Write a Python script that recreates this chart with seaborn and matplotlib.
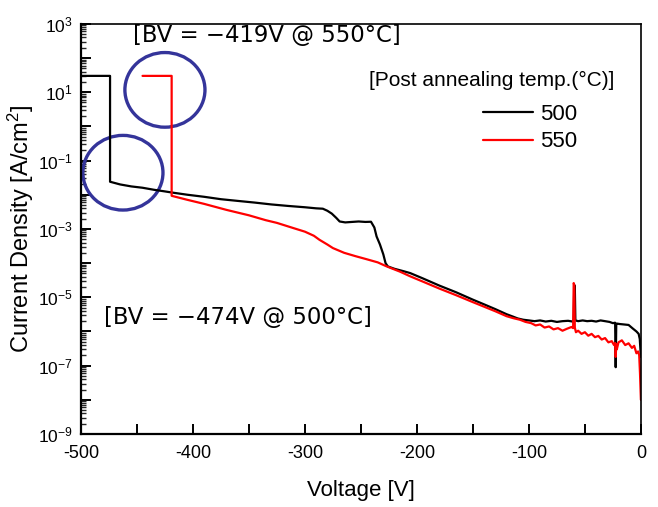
import matplotlib

matplotlib.use("Agg")

import numpy as np
import matplotlib.pyplot as plt
import pandas as pd
import seaborn as sns
from matplotlib.patches import Ellipse
from matplotlib.ticker import FixedLocator, FuncFormatter, LogLocator, MultipleLocator

# reverse I-V sweeps, current density in A/cm^2
v500 = [
    -500, -474, -474, -465, -455, -445, -435, -425, -418, -405,
    -390, -375, -360, -345, -330, -315, -300, -290, -284, -280,
    -276, -272, -269, -264, -258, -252, -246, -241, -238, -236,
    -233, -230, -228, -226, -220, -212, -206, -195, -180, -165,
    -150, -140, -130, -120, -114, -110, -105, -100, -95, -90,
    -85, -80, -75, -70, -65, -61, -60, -59.5, -59, -58.5,
    -56, -52, -48, -44, -40, -36, -32, -28, -25, -23,
    -22.5, -22, -21.5, -19, -15, -11, -7, -4, -2, -1,
    0,
]
j500 = [
    30, 30, 2.4e-2, 2.0e-2, 1.75e-2, 1.6e-2, 1.4e-2, 1.25e-2, 1.15e-2, 1.0e-2,
    8.7e-3, 7.4e-3, 6.6e-3, 5.9e-3, 5.2e-3, 4.7e-3, 4.3e-3, 4.0e-3, 3.9e-3, 3.4e-3,
    2.8e-3, 2.1e-3, 1.65e-3, 1.55e-3, 1.6e-3, 1.65e-3, 1.6e-3, 1.62e-3, 1.1e-3, 6.0e-4,
    3.5e-4, 1.8e-4, 1.0e-4, 8.0e-5, 6.8e-5, 5.8e-5, 5.1e-5, 3.6e-5, 2.2e-5, 1.4e-5,
    8.5e-6, 6.2e-6, 4.5e-6, 3.2e-6, 2.7e-6, 2.4e-6, 2.2e-6, 2.1e-6, 2.0e-6, 2.1e-6,
    1.95e-6, 2.05e-6, 1.9e-6, 2.0e-6, 2.05e-6, 1.95e-6, 2.2e-6, 2.3e-5, 2.0e-5, 2.1e-6,
    2.0e-6, 2.1e-6, 2.0e-6, 2.05e-6, 1.95e-6, 2.1e-6, 2.0e-6, 1.9e-6, 1.75e-6, 1.8e-6,
    9e-8, 1.6e-6, 1.7e-6, 1.65e-6, 1.6e-6, 1.55e-6, 1.2e-6, 1.0e-6, 8.5e-7, 6e-7,
    1.8e-7,
]
v550 = [
    -445, -419, -419, -405, -390, -370, -350, -335, -325, -310,
    -300, -292, -287, -280, -275, -265, -255, -245, -235, -227,
    -215, -206, -195, -180, -165, -150, -140, -130, -120, -114,
    -108, -103, -98, -94, -90, -86, -82, -78, -74, -70,
    -66, -62, -60.5, -60, -59.5, -59, -58, -56, -53, -50,
    -47, -44, -41, -38, -35, -32, -29, -26, -24, -23,
    -22.5, -22, -21.5, -20, -17, -14, -11, -8, -6, -4,
    -2.5, -1.5, -0.8, 0,
]
j550 = [
    30, 30, 9.3e-3, 7.1e-3, 5.4e-3, 3.6e-3, 2.5e-3, 1.8e-3, 1.5e-3, 1.05e-3,
    8.3e-4, 6.3e-4, 4.8e-4, 3.5e-4, 2.75e-4, 2.0e-4, 1.6e-4, 1.3e-4, 1.05e-4, 8.0e-5,
    5.6e-5, 4.1e-5, 2.9e-5, 1.8e-5, 1.15e-5, 7.2e-6, 5.3e-6, 3.9e-6, 2.8e-6, 2.45e-6,
    2.2e-6, 1.9e-6, 1.75e-6, 1.5e-6, 1.6e-6, 1.3e-6, 1.4e-6, 1.15e-6, 1.25e-6, 1.05e-6,
    1.2e-6, 1.35e-6, 1.25e-6, 2.6e-5, 2.3e-5, 1.3e-6, 9.5e-7, 1.05e-6, 8.5e-7, 9.5e-7,
    7.5e-7, 8.5e-7, 6.8e-7, 7.4e-7, 5.8e-7, 6.4e-7, 4.8e-7, 5.2e-7, 4.0e-7, 4.6e-7,
    1.8e-7, 4.2e-7, 3.0e-7, 4.8e-7, 5.5e-7, 4.0e-7, 4.5e-7, 3.3e-7, 3.8e-7, 2.3e-7,
    2.6e-7, 2.0e-7, 6e-8, 1.0e-8,
]
TEMP_LABELS = ["500", "550"]
TEMP_COLORS = {"500": "black", "550": "red"}

df = pd.concat(
    [
        pd.DataFrame({"voltage": v500, "current": j500, "temp": "500"}),
        pd.DataFrame({"voltage": v550, "current": j550, "temp": "550"}),
    ],
    ignore_index=True,
)

sns.set_theme(style="white")
plt.rcParams["font.family"] = ["Liberation Sans", "DejaVu Sans"]
plt.rcParams["mathtext.fontset"] = "custom"
plt.rcParams["mathtext.rm"] = "Liberation Sans"
plt.rcParams["mathtext.it"] = "Liberation Sans:italic"
plt.rcParams["axes.unicode_minus"] = False
plt.rcParams["text.color"] = "black"
plt.rcParams["axes.labelcolor"] = "black"

fig = plt.figure(figsize=(6.58, 5.07), dpi=100)
ax = fig.add_axes([0.123, 0.144, 0.851, 0.809])

sns.lineplot(
    data=df, x="voltage", y="current", hue="temp", hue_order=TEMP_LABELS,
    palette=TEMP_COLORS, sort=False, estimator=None, linewidth=1.6, ax=ax, legend=False,
)
ax.set_yscale("log")
ax.set_xlim(-500, 0)
ax.set_ylim(1e-9, 1e3)

# ticks: inward, left/bottom only
ax.xaxis.set_major_locator(MultipleLocator(50))
ax.xaxis.set_major_formatter(FuncFormatter(lambda x, _: f"{int(round(x))}" if round(x) % 100 == 0 else ""))
ax.yaxis.set_major_locator(FixedLocator([10.0 ** e for e in range(-9, 4)]))
ax.yaxis.set_minor_locator(LogLocator(base=10, subs=np.arange(2, 10), numticks=30))


def y_label(y, _):
    e = int(round(np.log10(y)))
    return f"$10^{{{e}}}$" if e % 2 != 0 else ""


ax.yaxis.set_major_formatter(FuncFormatter(y_label))
ax.tick_params(which="major", direction="in", length=7, width=1.4, colors="black",
               bottom=True, left=True, top=False, right=False)
ax.tick_params(axis="x", labelsize=13, pad=8)
ax.tick_params(axis="y", labelsize=12.5, pad=6)
ax.tick_params(which="minor", direction="in", length=3.5, width=1.0,
               bottom=False, left=True, top=False, right=False)
for side in ["left", "bottom", "right", "top"]:
    ax.spines[side].set_color("black")
    ax.spines[side].set_linewidth(1.6 if side in ("left", "bottom") else 1.2)

ax.set_xlabel("Voltage [V]", fontsize=16, labelpad=13)
ax.set_ylabel("Current Density [A/cm$^2$]", fontsize=17)
ax.yaxis.set_label_coords(-0.08, 0.5)

# annotations
ax.text(0.093, 0.971, "[BV = \u2212419V @ 550\u00b0C]", transform=ax.transAxes,
        fontsize=16.4, va="center", ha="left", family="DejaVu Sans")
ax.text(0.041, 0.285, "[BV = \u2212474V @ 500\u00b0C]", transform=ax.transAxes,
        fontsize=16.4, va="center", ha="left", family="DejaVu Sans")
for cx, cy in [(0.075, 0.637), (0.15, 0.839)]:
    ax.add_patch(Ellipse((cx, cy), 0.143, 0.182, transform=ax.transAxes,
                         fill=False, edgecolor="#34349a", linewidth=2.4))

# legend
ax.text(0.734, 0.863, "[Post annealing temp.(\u00b0C)]", transform=ax.transAxes,
        fontsize=15, va="center", ha="center")
handles = [plt.Line2D([], [], color=TEMP_COLORS[t], linewidth=1.6) for t in TEMP_LABELS]
ax.legend(handles, TEMP_LABELS, loc="upper left", bbox_to_anchor=(0.718, 0.805),
          frameon=False, fontsize=16, handlelength=2.25, handletextpad=0.3,
          borderpad=0, borderaxespad=0, labelspacing=0.3)

fig.savefig("out.png", dpi=100)
